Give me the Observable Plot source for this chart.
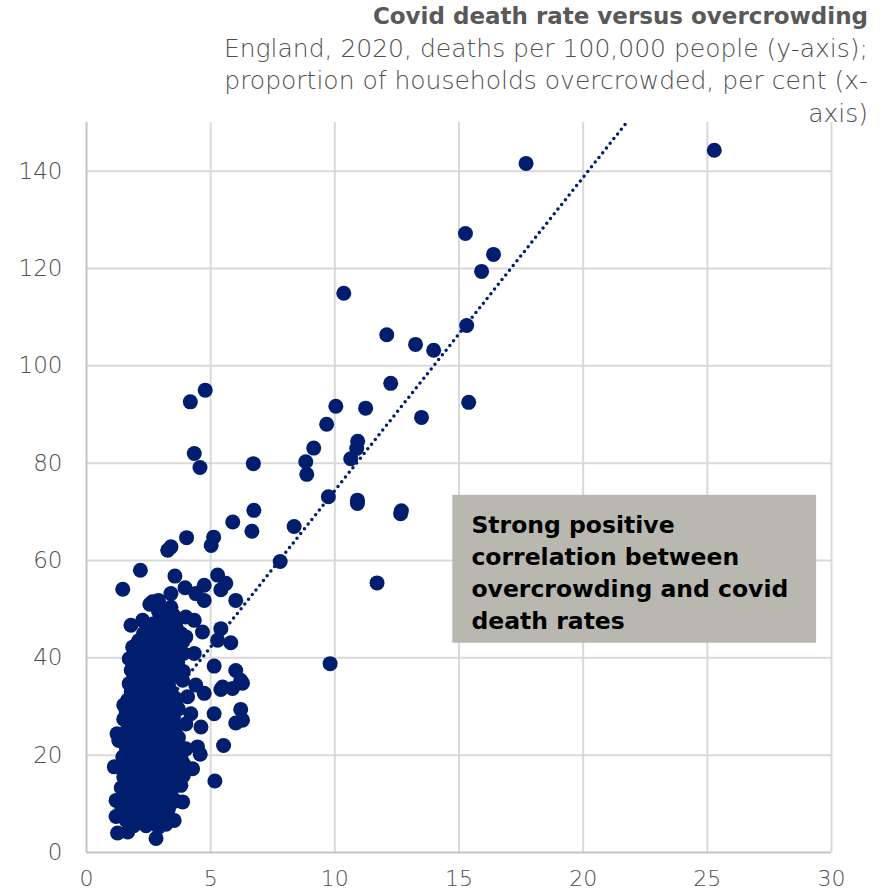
<!DOCTYPE html>
<html>
<head>
<meta charset="utf-8">
<script src="https://cdn.jsdelivr.net/npm/d3@7"></script>
<script src="https://cdn.jsdelivr.net/npm/@observablehq/plot@0.6"></script>
<style>
  body { margin: 0; background: #fff; }
  #wrap { position: relative; width: 885px; height: 896px; font-family: "DejaVu Sans", sans-serif; }
  #titles { position: absolute; top: 0px; right: 17px; text-align: right; color: #595959; line-height: 32.5px; z-index: 2; white-space: nowrap; }
  #titles .t { font-weight: bold; font-size: 23px; }
  #titles .s { font-size: 25px; font-weight: 300; color: #505050; }
  #chart { position: absolute; top: 0; left: 0; }
</style>
</head>
<body>
<div id="wrap">
  <div id="chart"></div>
  <div id="titles">
    <div class="t">Covid death rate versus overcrowding</div>
    <div class="s">England, 2020, deaths per 100,000 people (y-axis);</div>
    <div class="s">proportion of households overcrowded, per cent (x-</div>
    <div class="s">axis)</div>
  </div>
</div>
<script>
// Axis ticks
const xTicks = [0, 5, 10, 15, 20, 25, 30];
const yTicks = [0, 20, 40, 60, 80, 100, 120, 140];

// Local authorities well above the main cluster: [overcrowded %, deaths per 100,000]
const outlierPoints = [
  [25.28,144.3],[17.70,141.6],[15.26,127.2],[16.39,122.9],[15.91,119.4],[10.36,114.9],
  [12.09,106.4],[15.31,108.3],[13.25,104.4],[13.98,103.2],[12.25,96.4],[4.18,92.6],
  [4.78,95.0],[15.39,92.5],[10.04,91.7],[11.24,91.3],[13.49,89.4],[9.67,88.0],
  [9.15,83.1],[10.92,84.5],[10.88,83.0],[10.64,80.9],[4.34,82.0],[4.57,79.1],
  [6.72,79.9],[8.83,80.3],[8.87,77.7],[9.74,73.1],[10.91,72.4],[10.91,71.7],
  [12.65,69.6],[12.68,70.2],[6.74,70.3],[6.66,66.0],[5.89,67.9],[8.36,67.0],
  [5.12,64.8],[5.02,63.1],[4.03,64.7],[3.40,62.8],[3.27,62.1],[7.80,59.8],
  [2.17,58.0],[1.46,54.1],[11.70,55.4],[9.81,38.8]
];

// Upper part of the main cluster
const clusterUpper = [
  [3.56,56.8],[5.28,57.0],[5.61,55.3],[4.74,54.9],[3.97,54.4],[5.41,54.0],[4.40,53.2],
  [3.40,53.2],[4.74,51.8],[6.01,51.8],[2.66,51.5],[2.55,51.0],[3.40,50.4],[3.27,49.8],
  [3.33,47.7],[1.79,46.7],[2.26,47.7],[4.0,48.4],[4.34,47.7],[5.41,46.0],[4.67,45.3],
  [5.81,43.1],[5.28,43.6],[1.99,42.6],[4.0,44.3],[4.34,40.9],[3.67,39.1],[5.14,38.3],
  [6.01,37.4],[6.21,35.4],[6.28,34.8],[5.48,34.0],[5.88,33.7],[4.40,34.4],[3.87,35.4],
  [1.72,39.8],[1.86,42.2],[3.33,43.6],[2.53,44.3],[3.87,43.3],
  [2.9,49.5],[3.1,48.2],[2.7,47.0],[3.0,45.8],[3.6,46.5],[3.8,45.0],[2.4,45.5],[3.5,48.8],[2.9,51.8]
];

// Edges of the main cluster
const clusterEdges = [
  [5.14,28.5],[6.21,29.4],[6.28,27.2],[6.01,26.6],[4.61,25.8],[4.20,28.5],[5.52,22.0],
  [4.58,20.2],[4.47,21.7],[4.27,17.2],[5.17,14.7],[3.53,6.6],[2.80,2.9],[1.25,4.0],
  [1.66,4.2],[1.19,7.4],[1.19,10.7],[1.12,17.6],[1.23,24.4],[1.46,19.6],[1.66,31.3],
  [1.72,34.7],[1.86,39.6],[3.87,10.4],[3.80,13.8],[3.53,17.9],[4.74,32.7],[4.07,32.0],[5.41,33.5]
];

// Dense body of the main cluster
const clusterBody = [
  [1.9,5.5],[2.4,5.5],[2.9,5.2],[3.2,5.8],
  [1.6,6.6],[2.1,6.8],[2.6,6.4],[3.0,7.0],
  [1.4,8.5],[1.8,8.8],[2.2,8.3],[2.6,8.7],[3.0,8.4],[3.3,9.0],
  [1.6,10.2],[2.0,10.5],[2.4,10.0],[2.8,10.4],[3.2,10.1],[3.6,10.6],
  [1.5,11.8],[1.9,12.0],[2.3,11.6],[2.7,12.1],[3.1,11.7],[3.4,12.3],
  [1.4,13.3],[1.8,13.8],[2.2,13.4],[2.6,13.9],[3.0,13.5],[3.4,14.0],
  [1.5,15.5],[1.9,15.2],[2.3,15.8],[2.7,15.4],[3.1,15.9],[3.5,15.3],[3.9,15.8],
  [1.5,17.4],[1.9,17.8],[2.3,17.3],[2.7,17.9],[3.1,17.5],[3.9,18.3],
  [1.8,19.8],[2.2,19.4],[2.6,19.9],[3.0,19.5],[3.4,20.0],[3.8,19.6],
  [1.6,21.5],[2.0,21.8],[2.4,21.3],[2.8,21.9],[3.2,21.4],[3.6,21.7],[4.0,21.3],
  [1.3,23.0],[1.7,23.2],[2.1,23.5],[2.5,22.9],[2.9,23.4],[3.3,23.0],[3.7,23.6],
  [1.6,24.8],[2.0,24.4],[2.4,24.9],[2.8,24.5],[3.2,24.8],[3.6,24.3],
  [1.7,26.0],[2.1,26.3],[2.5,25.8],[3.0,26.2],[3.5,25.9],[4.0,26.4],
  [1.5,27.4],[1.9,27.6],[2.3,27.2],[2.7,27.7],[3.1,27.3],[3.5,27.8],
  [1.6,28.9],[2.0,29.2],[2.4,28.8],[2.8,29.3],[3.3,28.7],[3.7,29.5],
  [1.5,30.3],[1.9,30.6],[2.3,30.2],[2.7,30.7],[3.1,30.3],[3.6,30.8],
  [2.0,31.8],[2.4,32.1],[2.8,31.7],[3.2,32.2],[3.6,31.6],
  [1.8,33.0],[2.2,33.4],[2.6,33.0],[3.0,33.5],[3.4,33.1],
  [2.1,34.7],[2.5,34.4],[2.9,34.9],[3.3,34.5],
  [1.9,36.0],[2.3,36.3],[2.7,35.8],[3.1,36.2],[3.5,36.5],
  [1.8,37.5],[2.2,37.2],[2.6,37.6],[3.0,37.3],[3.4,37.8],[3.9,37.2],
  [2.0,38.8],[2.4,39.2],[2.8,38.7],[3.2,39.0],
  [2.2,40.6],[2.6,40.3],[3.0,40.8],[3.4,40.4],[3.9,40.9],
  [2.3,42.0],[2.7,42.3],[3.1,41.8],[3.5,42.2],
  [2.1,43.5],[2.9,43.2],
  [2.3,45.0],[2.7,45.2],[3.1,44.8],[3.5,45.1]
];

// Linear trend line
const trendX = [1.12, 21.75];
const trendY = [17.25, 150];

// Annotation
const noteLines = ["Strong positive", "correlation between", "overcrowding and covid", "death rates"];
const noteBox = [{x1: 14.75, x2: 29.4, y1: 43.0, y2: 73.4}];
const noteAnchor = [{x: 15.5, y: 70.2}];

const points = [...clusterBody, ...clusterEdges, ...clusterUpper, ...outlierPoints];
const trend = trendX.map((x, i) => ({x, y: trendY[i]}));

const navy = "#011e6e";
const gridColor = "#d9d9d9";

const chart = Plot.plot({
  width: 885,
  height: 896,
  marginTop: 122,
  marginLeft: 86,
  marginRight: 54,
  marginBottom: 44,
  x: {domain: [0, 30]},
  y: {domain: [0, 150]},
  style: {fontFamily: "DejaVu Sans, sans-serif", background: "#fff"},
  marks: [
    Plot.gridX(xTicks.slice(1), {stroke: gridColor, strokeOpacity: 1, strokeWidth: 2}),
    Plot.gridY(yTicks.slice(1), {stroke: gridColor, strokeOpacity: 1, strokeWidth: 2}),
    Plot.ruleX([0], {stroke: "#c4c4c4", strokeWidth: 2}),
    Plot.ruleY([0], {stroke: "#c4c4c4", strokeWidth: 2}),
    Plot.axisX({ticks: xTicks, tickSize: 0, tickPadding: 18, fontSize: 22, fontWeight: 300, fill: "#505050", label: null}),
    Plot.axisY({ticks: yTicks, tickSize: 0, tickPadding: 24, fontSize: 23, fontWeight: 300, fill: "#505050", label: null}),
    Plot.rect(noteBox, {x1: "x1", x2: "x2", y1: "y1", y2: "y2", fill: "#b8b8b0"}),
    Plot.line(trend, {x: "x", y: "y", stroke: navy, strokeWidth: 3.5, strokeDasharray: "0 6", strokeLinecap: "round"}),
    Plot.dot(points, {x: d => d[0], y: d => d[1], r: 7.5, fill: navy}),
    Plot.text(noteAnchor, {x: "x", y: "y", text: () => noteLines.join("\n"), lineAnchor: "top", textAnchor: "start",
      fontSize: 23.5, fontWeight: "bold", fill: "#000", lineHeight: 1.35})
  ]
});
document.getElementById("chart").appendChild(chart);
</script>
</body>
</html>
